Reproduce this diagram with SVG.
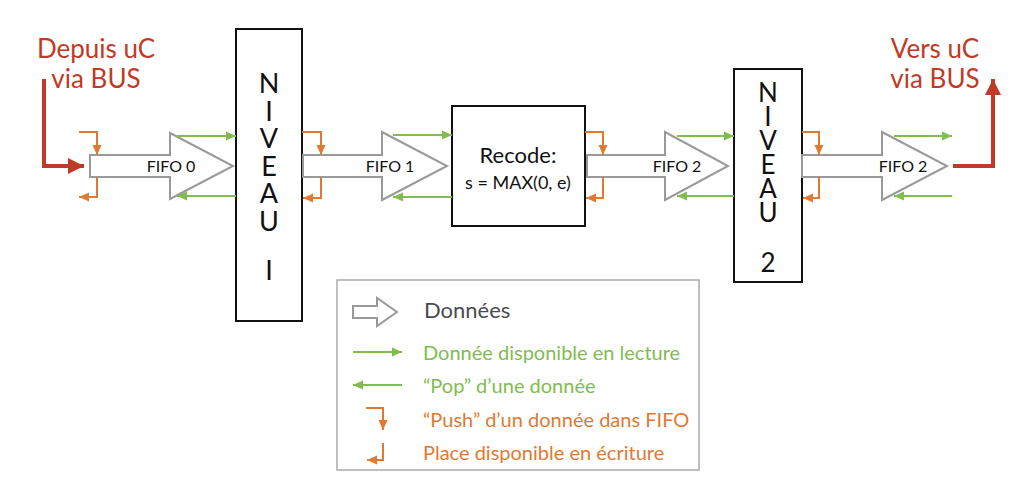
<svg xmlns="http://www.w3.org/2000/svg" width="1024" height="502" viewBox="0 0 1024 502">
<style>
text{font-family:Lato,"Open Sans","Liberation Sans",sans-serif}
.box{fill:#fff;stroke:#111;stroke-width:2}
.fifo{fill:#fff;stroke:#999;stroke-width:2}
.g{fill:none;stroke:#80BD4E;stroke-width:2;marker-end:url(#mg)}
.o{fill:none;stroke:#E07A32;stroke-width:2;marker-end:url(#mo)}
.r{fill:none;stroke:#BF3A27;stroke-width:4;marker-end:url(#mr)}
.lt{font-size:16px;fill:#111;text-anchor:middle}
.niv{font-size:27px;fill:#111;text-anchor:middle}
.vert{font-size:27px;fill:#111;writing-mode:vertical-rl;text-orientation:upright}
.red{font-size:26px;fill:#BF3A27;text-anchor:middle}
.leg{font-size:20px}
</style>
<defs>
<marker id="mg" markerUnits="userSpaceOnUse" markerWidth="12" markerHeight="10" refX="10" refY="5" orient="auto"><path d="M0,0.5 L10,5 L0,9.5 Z" fill="#80BD4E"/></marker>
<marker id="mo" markerUnits="userSpaceOnUse" markerWidth="12" markerHeight="10" refX="10" refY="5" orient="auto"><path d="M0,0.5 L10,5 L0,9.5 Z" fill="#E07A32"/></marker>
<marker id="mr" markerUnits="userSpaceOnUse" markerWidth="18" markerHeight="18" refX="16" refY="8" orient="auto"><path d="M0,0 L16,8 L0,16 Z" fill="#BF3A27"/></marker>
</defs>

<g id="labels">
<text class="red" x="96" y="58">Depuis uC</text>
<text class="red" x="96" y="88">via BUS</text>
<text class="red" x="935" y="58">Vers uC</text>
<text class="red" x="935" y="88">via BUS</text>
</g>

<g id="fifo0">
<path class="fifo" d="M90,155 H170 V133 L233,166 L170,199 V177 H90 Z"/>
<text class="lt" x="171" y="172">FIFO 0</text>
</g>
<g id="niveau1">
<rect class="box" x="236" y="29" width="66" height="292"/>
<text class="vert" x="269" y="66" style="letter-spacing:-5.5px">NIVEAU</text>
<text class="niv" x="269" y="280">I</text>
</g>
<g id="fifo1">
<path class="fifo" d="M303,155 H382 V132 L447,166 L382,200 V177 H303 Z"/>
<text class="lt" x="390" y="172">FIFO 1</text>
</g>
<g id="recode">
<rect class="box" x="452" y="106" width="133" height="120"/>
<text x="518" y="163" style="font-size:22px;fill:#111;text-anchor:middle">Recode:</text>
<text x="518" y="189" style="font-size:18px;fill:#111;text-anchor:middle">s = MAX(0, e)</text>
</g>
<g id="fifo2a">
<path class="fifo" d="M587,155 H665 V132 L728,166 L665,200 V177 H587 Z"/>
<text class="lt" x="677" y="172">FIFO 2</text>
</g>
<g id="niveau2">
<rect class="box" x="734" y="69" width="68" height="213"/>
<text class="vert" x="768" y="76" style="font-size:26px;letter-spacing:-8px">NIVEAU</text>
<text class="niv" x="768" y="272" style="font-size:26px">2</text>
</g>
<g id="fifo2b">
<path class="fifo" d="M802,155 H882 V132 L947,166 L882,200 V177 H802 Z"/>
<text class="lt" x="903" y="172">FIFO 2</text>
</g>

<g id="connectors">
<path class="r" d="M44,79 V166 H84"/>
<path class="r" d="M953,166 H993 V79"/>
<path class="g" d="M177,136 H236"/>
<path class="g" d="M236,196 H177"/>
<path class="g" d="M393,135 H452"/>
<path class="g" d="M452,197 H393"/>
<path class="g" d="M677,136 H734"/>
<path class="g" d="M734,196 H677"/>
<path class="g" d="M894,136 H952"/>
<path class="g" d="M952,196 H894"/>
<path class="o" d="M79,132 H97 V155"/>
<path class="o" d="M97,177 V197 H79"/>
<path class="o" d="M302,132 H321 V155"/>
<path class="o" d="M321,177 V198 H303"/>
<path class="o" d="M585,132 H603 V155"/>
<path class="o" d="M603,177 V198 H586"/>
<path class="o" d="M802,132 H819 V155"/>
<path class="o" d="M819,177 V198 H803"/>
</g>

<g id="legend">
<rect x="337" y="280" width="362" height="190" fill="#fff" stroke="#aaa" stroke-width="1.5"/>
<path class="fifo" d="M353,306 H377 V298 L397,312 L377,326 V318 H353 Z"/>
<text x="424" y="318" style="font-size:22px;fill:#4a4a52">Données</text>
<path class="g" d="M353,352 H402"/>
<text class="leg" x="423" y="360" fill="#80BD4E">Donnée disponible en lecture</text>
<path class="g" d="M402,385 H353"/>
<text class="leg" x="423" y="393" fill="#80BD4E">“Pop” d’une donnée</text>
<path class="o" d="M366,408 H383 V430"/>
<text class="leg" x="423" y="427" fill="#E07A32">“Push” d’un donnée dans FIFO</text>
<path class="o" d="M383,443 V460 H367"/>
<text class="leg" x="423" y="460" fill="#E07A32">Place disponible en écriture</text>
</g>
</svg>
